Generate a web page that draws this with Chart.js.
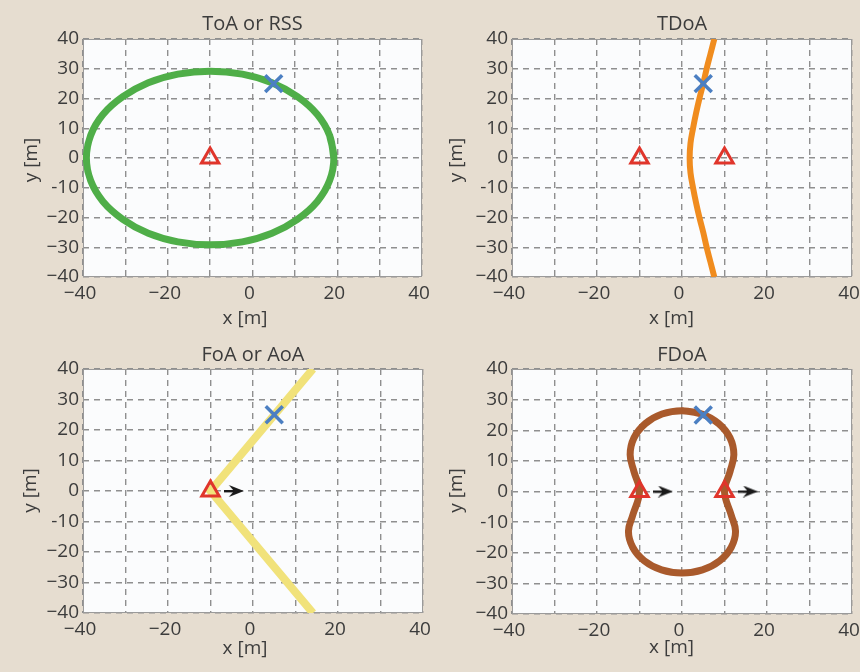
<!DOCTYPE html>
<html>
<head>
<meta charset="utf-8">
<script src="https://cdn.jsdelivr.net/npm/chart.js@4.4.0/dist/chart.umd.min.js"></script>
<style>
  body { margin: 0; background: #e6ddd0; }
  #wrap { position: relative; width: 860px; height: 672px; }
  .panel { position: absolute; width: 430px; height: 336px; }
</style>
</head>
<body>
<div id="wrap">
  <div class="panel" style="left:0;top:0"><canvas id="toa" width="430" height="336"></canvas></div>
  <div class="panel" style="left:430px;top:0"><canvas id="tdoa" width="430" height="336"></canvas></div>
  <div class="panel" style="left:0;top:336px"><canvas id="aoa" width="430" height="336"></canvas></div>
  <div class="panel" style="left:430px;top:336px"><canvas id="fdoa" width="430" height="336"></canvas></div>
</div>
<script>
"use strict";

// ticks shared by all four panels
const axisTicks = [-40, -30, -20, -10, 0, 10, 20, 30, 40];
const xTickLabels = ["−40", "", "−20", "", "0", "", "20", "", "40"];
const yTickLabels = ["−40", "−30", "−20", "-10", "0", "10", "20", "30", "40"];

// target (blue x)
const targetX = [5];
const targetY = [25];

// ToA or RSS - circle round the anchor
const toaX = [19.2, 18.2, 15.3, 10.6, 4.6, -2.4, -10, -17.6, -24.6, -30.6, -35.3, -38.2, -39.2,
  -38.2, -35.3, -30.6, -24.6, -17.6, -10, -2.4, 4.6, 10.6, 15.3, 18.2, 19.2, 18.2];
const toaY = [0, 7.6, 14.6, 20.6, 25.3, 28.2, 29.2, 28.2, 25.3, 20.6, 14.6, 7.6, 0,
  -7.6, -14.6, -20.6, -25.3, -28.2, -29.2, -28.2, -25.3, -20.6, -14.6, -7.6, 0, 7.6];
const toaAnchorX = [-10];
const toaAnchorY = [0];

// TDoA - hyperbola branch
const tdoaX = [7.6, 6.7, 5.8, 5.0, 4.1, 3.3, 2.6, 2.0, 1.8, 2.0, 2.6, 3.3, 4.1, 5.0, 5.8, 6.7, 7.6];
const tdoaY = [40, 35, 30, 25, 20, 15, 10, 5, 0, -5, -10, -15, -20, -25, -30, -35, -40];
const tdoaAnchorX = [-10, 10];
const tdoaAnchorY = [0, 0];

// FoA or AoA - bearing lines
const aoaX = [14.1, -10, 14.1];
const aoaY = [40, 0, -40];
const aoaAnchorX = [-10];
const aoaAnchorY = [0];
const aoaArrowX = [-4.5];
const aoaArrowY = [0];

// FDoA - closed curve
const fdoaX = [0, 4.7, 8.6, 11.3, 12.2, 11.3, 10.0, 11.6, 12.6, 11.6, 8.9, 4.8, 0,
  -4.8, -8.9, -11.6, -12.6, -11.6, -10.0, -11.3, -12.2, -11.3, -8.6, -4.7, 0, 4.7];
const fdoaY = [26.4, 25.3, 22.2, 17.5, 12, 6.5, 0, -7.8, -13, -18.2, -22.6, -25.6, -26.6,
  -25.6, -22.6, -18.2, -13, -7.8, 0, 6.5, 12, 17.5, 22.2, 25.3, 26.4, 25.3];
const fdoaAnchorX = [-10, 10];
const fdoaAnchorY = [0, 0];
const fdoaArrowX = [-4.5, 15.5];
const fdoaArrowY = [0, 0];

const textColor = "#3c3c3c";
const red = "#e0352b";
const blue = "#4b7fc2";

function pts(xs, ys) {
  return xs.map((x, i) => ({ x: x, y: ys[i] }));
}

function makeArrow() {
  const c = document.createElement("canvas");
  c.width = 20;
  c.height = 12;
  const g = c.getContext("2d");
  g.fillStyle = "#1a1a1a";
  g.fillRect(0, 5, 10, 2.4);
  g.beginPath();
  g.moveTo(20, 6);
  g.lineTo(5, 0);
  g.lineTo(10, 6);
  g.lineTo(5, 12);
  g.closePath();
  g.fill();
  return c;
}
const arrowImg = makeArrow();

function curve(xs, ys, color, width, tension) {
  return {
    data: pts(xs, ys),
    showLine: true,
    borderColor: color,
    borderWidth: width,
    pointRadius: 0,
    tension: tension,
    clip: 0,
    order: 3,
  };
}

function anchors(xs, ys) {
  return {
    data: pts(xs, ys),
    pointStyle: "triangle",
    pointRadius: 10,
    pointBorderWidth: 3,
    pointBorderColor: red,
    pointBackgroundColor: "rgba(0,0,0,0)",
    order: 2,
  };
}

function target() {
  return {
    data: pts(targetX, targetY),
    pointStyle: "crossRot",
    pointRadius: 12,
    pointBorderWidth: 3.5,
    pointBorderColor: blue,
    order: 1,
  };
}

function arrows(xs, ys) {
  return {
    data: pts(xs, ys),
    pointStyle: arrowImg,
    pointRadius: 6,
    order: 1,
  };
}

// plot background + frame
const plotBox = {
  id: "plotBox",
  beforeDraw(chart) {
    const a = chart.chartArea;
    chart.ctx.save();
    chart.ctx.fillStyle = "#fbfcfd";
    chart.ctx.fillRect(a.left, a.top, a.right - a.left, a.bottom - a.top);
    chart.ctx.restore();
  },
  beforeDatasetsDraw(chart) {
    const a = chart.chartArea;
    chart.ctx.save();
    chart.ctx.strokeStyle = "#9a9a9a";
    chart.ctx.lineWidth = 1;
    chart.ctx.strokeRect(a.left + 0.5, a.top + 0.5, a.right - a.left - 1, a.bottom - a.top - 1);
    chart.ctx.restore();
  },
};

// panel title and axis titles
const panelText = {
  id: "panelText",
  afterDraw(chart, args, o) {
    const { ctx, chartArea } = chart;
    ctx.save();
    ctx.fillStyle = textColor;
    ctx.textAlign = "center";
    ctx.textBaseline = "alphabetic";
    ctx.font = "20px 'Open Sans'";
    ctx.fillText(o.title, (chartArea.left + chartArea.right) / 2, o.titleY);
    ctx.font = "19px 'Open Sans'";
    ctx.fillText("x [m]", o.xLabel[0], o.xLabel[1]);
    ctx.translate(o.yLabel[0], o.yLabel[1]);
    ctx.rotate(-Math.PI / 2);
    ctx.fillText("y [m]", 0, 0);
    ctx.restore();
  },
};

function axis(labels, isX, area) {
  return {
    type: "linear",
    min: -40,
    max: 40,
    afterBuildTicks: (s) => {
      s.ticks = axisTicks.map((v) => ({ value: v }));
    },
    afterFit: (s) => {
      if (isX) {
        s.height = 336 - area.bottom;
        s.paddingLeft = 0;
        s.paddingRight = 0;
      } else {
        s.width = area.left;
        s.paddingTop = 0;
        s.paddingBottom = 0;
      }
    },
    grid: { color: "#8f8f8f", lineWidth: 1.4, drawTicks: false },
    border: { display: false, dash: [6, 5] },
    ticks: {
      autoSkip: false,
      maxRotation: 0,
      padding: isX ? 5 : 4,
      labelOffset: isX ? -3 : 0,
      color: textColor,
      font: { family: "'Open Sans'", size: 19 },
      callback: (v, i) => labels[i],
    },
  };
}

function makePanel(id, datasets, p) {
  new Chart(document.getElementById(id), {
    type: "scatter",
    data: { datasets: datasets },
    options: {
      responsive: false,
      animation: false,
      events: [],
      layout: {
        autoPadding: false,
        padding: { top: p.area.top, right: 430 - p.area.right, left: 0, bottom: 0 },
      },
      scales: {
        x: axis(xTickLabels, true, p.area),
        y: axis(yTickLabels, false, p.area),
      },
      plugins: {
        legend: { display: false },
        tooltip: { enabled: false },
        panelText: { title: p.title, titleY: p.titleY, xLabel: p.xLabel, yLabel: p.yLabel },
      },
    },
    plugins: [plotBox, panelText],
  });
}

makePanel("toa", [
  curve(toaX, toaY, "#4fae48", 7, 0.4),
  anchors(toaAnchorX, toaAnchorY),
  target(),
], { title: "ToA or RSS", area: { left: 83, right: 422, top: 39, bottom: 277 },
  titleY: 30, xLabel: [245, 324], yLabel: [37, 160] });

makePanel("tdoa", [
  curve(tdoaX, tdoaY, "#f08c1e", 6, 0.4),
  anchors(tdoaAnchorX, tdoaAnchorY),
  target(),
], { title: "TDoA", area: { left: 82, right: 422, top: 39, bottom: 277 },
  titleY: 30, xLabel: [241.5, 324], yLabel: [32, 160] });

makePanel("aoa", [
  curve(aoaX, aoaY, "#f1e27a", 8, 0),
  anchors(aoaAnchorX, aoaAnchorY),
  arrows(aoaArrowX, aoaArrowY),
  target(),
], { title: "FoA or AoA", area: { left: 83, right: 423, top: 33, bottom: 277 },
  titleY: 24.5, xLabel: [245, 318], yLabel: [35.5, 154.5] });

makePanel("fdoa", [
  curve(fdoaX, fdoaY, "#a95a2c", 7, 0.4),
  anchors(fdoaAnchorX, fdoaAnchorY),
  arrows(fdoaArrowX, fdoaArrowY),
  target(),
], { title: "FDoA", area: { left: 82, right: 422, top: 33, bottom: 278 },
  titleY: 24.5, xLabel: [241.5, 317], yLabel: [32, 154.5] });
</script>
</body>
</html>
